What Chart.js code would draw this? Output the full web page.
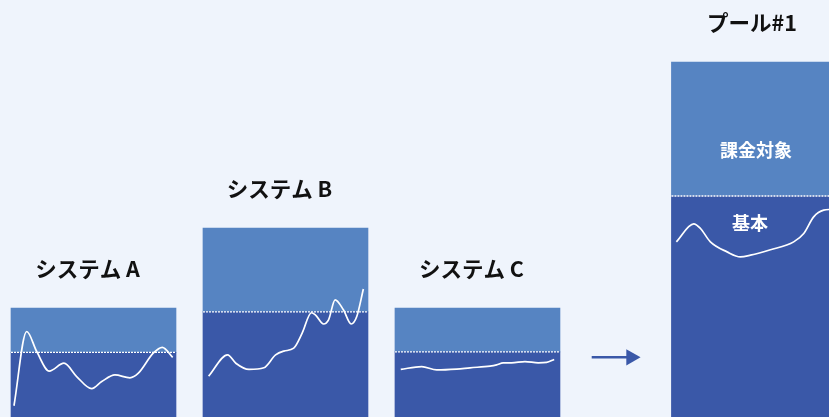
<!DOCTYPE html>
<html lang="ja">
<head>
<meta charset="utf-8">
<title>プール</title>
<script src="https://cdn.jsdelivr.net/npm/chart.js@4.4.1/dist/chart.umd.min.js"></script>
<style>
  html, body { margin: 0; padding: 0; background: #eff4fc; }
  #wrap { width: 829px; height: 417px; position: relative; }
</style>
</head>
<body>
<div id="wrap"><canvas id="poolChart"></canvas></div>
<script>
// bars: position on x, base part (基本) and total (基本 + 課金対象)
const names = ['システム A', 'システム B', 'システム C', 'プール#1'];
const barX = [0, 1, 2, 3.44];
const baseVals = [15.5, 25.2, 15.6, 53.0];
const totalVals = [26.1, 45.3, 26.1, 85.1];

// usage lines, t = 0..100 across the bar, v = value
const lineA_t = [1.8, 9.5, 15.6, 23.2, 32.1, 39.8, 48.9, 55.0, 63.0, 72.1, 77.2, 86.2, 91.7, 98.0];
const lineA_v = [2.7, 20.5, 15.7, 11.0, 12.9, 9.7, 6.8, 8.5, 10.1, 9.4, 10.5, 15.3, 16.7, 14.3];

const lineB_t = [3.4, 14.9, 19.9, 27.9, 36.9, 44.0, 49.0, 55.0, 60.1, 65.7, 68.1, 73.1, 76.1, 80.1, 85.1, 89.8, 93.2, 97.2];
const lineB_v = [9.8, 14.9, 12.9, 11.4, 11.8, 14.9, 15.8, 16.5, 20.1, 25.0, 24.5, 22.3, 23.3, 28.1, 25.7, 22.3, 24.1, 30.7];

const lineC_t = [3.5, 16.2, 25.3, 37.4, 45.5, 57.6, 61.6, 65.6, 70.7, 78.8, 86.8, 91.9, 96.5];
const lineC_v = [11.4, 12.1, 11.3, 11.5, 11.8, 12.2, 12.5, 13.0, 13.0, 13.3, 13.0, 13.1, 13.8];

const lineP_t = [3.0, 13.5, 17.6, 23.6, 33.7, 41.8, 47.9, 60.0, 74.1, 80.2, 86.2, 92.3, 98.0];
const lineP_v = [42.0, 46.3, 45.2, 42.0, 39.6, 38.4, 38.8, 40.1, 42.0, 44.0, 48.0, 49.6, 49.8];

const arrowX = [2.595, 2.80];
const arrowY = 14.3;

const DARK = '#3a58a8';
const LIGHT = '#5684c2';
const BAR_PX = 165;
const BAR_UNITS = 165 / 192;

function toPoints(i, ts, vs) {
  return ts.map((t, k) => ({ x: barX[i] + (t / 100 - 0.5) * BAR_UNITS, y: vs[k] }));
}

function usageLine(i, ts, vs) {
  return {
    type: 'line',
    data: toPoints(i, ts, vs),
    borderColor: '#ffffff',
    borderWidth: 1.7,
    pointRadius: 0,
    cubicInterpolationMode: 'monotone',
    order: 0
  };
}

function dottedLine(i) {
  return {
    type: 'line',
    data: [
      { x: barX[i] - BAR_UNITS / 2, y: baseVals[i] },
      { x: barX[i] + BAR_UNITS / 2, y: baseVals[i] }
    ],
    borderColor: '#ffffff',
    borderWidth: 1.3,
    borderDash: [2, 1],
    pointRadius: 0,
    order: 0
  };
}

const datasets = [
  {
    type: 'bar',
    data: barX.map((x, i) => ({ x: x, y: [0, baseVals[i]] })),
    backgroundColor: DARK,
    barThickness: BAR_PX,
    grouped: false,
    order: 2
  },
  {
    type: 'bar',
    data: barX.map((x, i) => ({ x: x, y: [baseVals[i], totalVals[i]] })),
    backgroundColor: LIGHT,
    barThickness: BAR_PX,
    grouped: false,
    order: 2
  },
  dottedLine(0), dottedLine(1), dottedLine(2), dottedLine(3),
  usageLine(0, lineA_t, lineA_v),
  usageLine(1, lineB_t, lineB_v),
  usageLine(2, lineC_t, lineC_v),
  usageLine(3, lineP_t, lineP_v),
  {
    type: 'line',
    data: [{ x: arrowX[0], y: arrowY }, { x: arrowX[1], y: arrowY }],
    borderColor: DARK,
    backgroundColor: DARK,
    borderWidth: 2.5,
    pointStyle: 'triangle',
    pointRotation: 90,
    pointRadius: [0, 9.5],
    pointBorderWidth: 0,
    order: 0
  }
];

const labelPlugin = {
  id: 'barLabels',
  afterDatasetsDraw(chart) {
    const c = chart.ctx;
    const xs = chart.scales.x, ys = chart.scales.y;
    const shift = [-6, -6, -6, -2];
    c.save();
    c.textAlign = 'center';
    c.textBaseline = 'middle';
    c.fillStyle = '#111111';
    c.font = 'bold 21.5px "Noto Sans CJK JP", "Noto Sans", sans-serif';
    names.forEach((n, i) => {
      c.fillText(n, xs.getPixelForValue(barX[i]) + shift[i], ys.getPixelForValue(totalVals[i]) - 39);
    });
    // labels inside pool
    const px = xs.getPixelForValue(barX[3]);
    const py = ys.getPixelForValue(baseVals[3]);
    c.fillStyle = '#ffffff';
    c.font = 'bold 18px "Noto Sans CJK JP", sans-serif';
    c.fillText('課金対象', px + 2, py - 46);
    c.fillText('基本', px - 4, py + 27);
    c.restore();
  }
};

new Chart(document.getElementById('poolChart'), {
  data: { datasets: datasets },
  options: {
    responsive: true,
    maintainAspectRatio: false,
    animation: false,
    layout: { padding: 0, autoPadding: false },
    scales: {
      x: { type: 'linear', min: -0.487, max: 3.831, offset: false, display: false },
      y: { min: 0, max: 100, display: false }
    },
    plugins: {
      legend: { display: false },
      tooltip: { enabled: false }
    }
  },
  plugins: [labelPlugin]
});
</script>
</body>
</html>
